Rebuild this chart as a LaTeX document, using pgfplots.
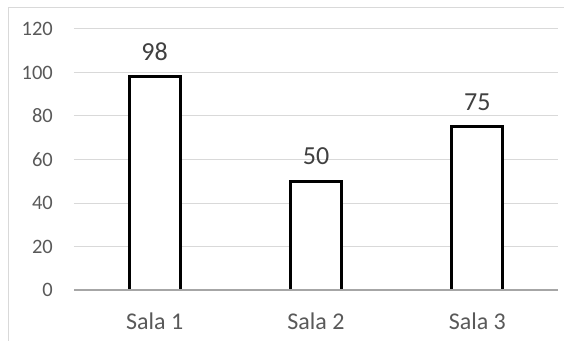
\documentclass[border=0pt]{standalone}
\usepackage{pgfplots}
\pgfplotsset{compat=1.18}
\usepackage{fontspec}
\setmainfont{Carlito}
\definecolor{gridgray}{HTML}{D9D9D9}
\definecolor{zerogray}{HTML}{A6A6A6}
\definecolor{ticktext}{HTML}{595959}
\definecolor{labeltext}{HTML}{404040}
\begin{document}
\begin{tikzpicture}
% page frame: 564 x 340, axis box lower-left at (0,0)
\useasboundingbox (-74pt,-50pt) rectangle (490pt,290pt);
\draw[gridgray, line width=1pt] (-65pt,-60pt) -- (-65pt,282pt) -- (500pt,282pt);
\begin{axis}[
  at={(0,0)}, anchor=south west,
  scale only axis,
  width=484pt, height=261pt,
  xmin=-0.5, xmax=2.5,
  ymin=0, ymax=120,
  ytick={0,20,...,120},
  xtick=data,
  xticklabels={Sala 1,Sala 2,Sala 3},
  /pgf/number format/assume math mode=true,
  axis line style={draw=none},
  major tick length=0pt,
  ymajorgrids,
  grid style={gridgray, line width=1pt},
  yticklabel style={font=\fontsize{20.5}{24}\selectfont, text=ticktext, inner sep=0pt, anchor=east, xshift=-21pt},
  xticklabel style={font=\fontsize{24}{28}\selectfont, text=ticktext, inner sep=0pt, anchor=north, yshift=-23pt},
  ybar,
  bar width=51pt,
  nodes near coords,
  every node near coord/.append style={font=\fontsize{26}{30}\selectfont, text=labeltext, inner sep=0pt, anchor=south, yshift=15pt},
  clip=false,
]
\addplot[draw=black, fill=white, line width=2.8pt] coordinates {(0,98) (1,50) (2,75)};
\draw[zerogray, line width=1.2pt] (axis cs:-0.5,0) -- (axis cs:2.5,0);
\end{axis}
\end{tikzpicture}
\end{document}
